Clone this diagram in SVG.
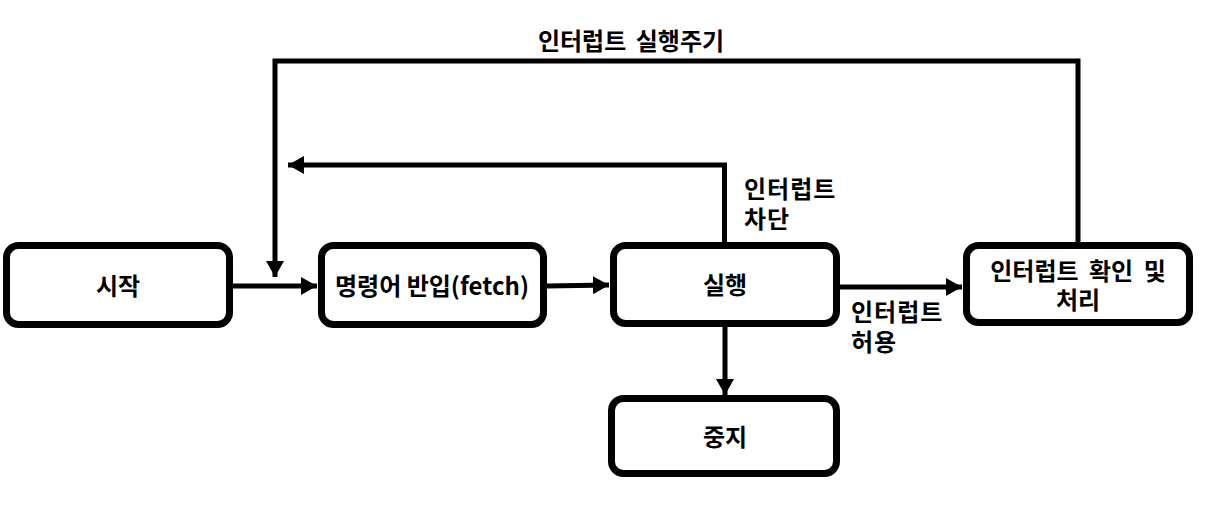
<svg xmlns="http://www.w3.org/2000/svg" width="1205" height="527" viewBox="0 0 1205 527">
<style>
.box{fill:#fff;stroke:#000;stroke-width:7}
.t{font-family:"Noto Sans CJK KR","Noto Sans",sans-serif;font-weight:bold;font-size:24px;fill:#000}
.m{text-anchor:middle}
.c{fill:none;stroke:#000;stroke-width:5}
</style>
<defs>
<marker id="ah" markerWidth="16" markerHeight="18" refX="16" refY="9" orient="auto" markerUnits="userSpaceOnUse">
<path d="M0,0 L16,9 L0,18 Z" fill="#000"/>
</marker>
</defs>
<rect width="1205" height="527" fill="#fff"/>
<g id="connectors">
<path class="c" d="M233,286 L317,286" marker-end="url(#ah)"/>
<path class="c" d="M547,286 L609,285" marker-end="url(#ah)"/>
<path class="c" d="M840,287 L962,287" marker-end="url(#ah)"/>
<path class="c" d="M725,327 L725,395" marker-end="url(#ah)"/>
<path class="c" d="M724.5,243 L724.5,165 L288,165" marker-end="url(#ah)"/>
<path class="c" d="M1078,242 L1078,61 L275,61 L275,277" marker-end="url(#ah)"/>
</g>
<g id="n-start"><rect class="box" x="6.5" y="245.5" width="223" height="79" rx="12"/><text class="t m" x="118" y="295">시작</text></g>
<g id="n-fetch"><rect class="box" x="321.5" y="245.5" width="222" height="79" rx="12"/><text class="t m" x="432" y="295">명령어 반입(fetch)</text></g>
<g id="n-exec"><rect class="box" x="613.5" y="245.5" width="223" height="78" rx="12"/><text class="t m" x="725" y="294">실행</text></g>
<g id="n-int"><rect class="box" x="966.5" y="245.5" width="223" height="77" rx="12"/><text class="t m" x="1078" y="280" word-spacing="5">인터럽트 확인 및</text><text class="t m" x="1078" y="309">처리</text></g>
<g id="n-stop"><rect class="box" x="611.5" y="398.5" width="225" height="75" rx="12"/><text class="t m" x="725" y="446">중지</text></g>
<g id="labels">
<text class="t m" x="631" y="50" word-spacing="4">인터럽트 실행주기</text>
<text class="t" x="744" y="198" letter-spacing="1">인터럽트</text>
<text class="t" x="744" y="228" letter-spacing="1">차단</text>
<text class="t" x="851" y="321" letter-spacing="1">인터럽트</text>
<text class="t" x="851" y="351" letter-spacing="1">허용</text>
</g>
</svg>
